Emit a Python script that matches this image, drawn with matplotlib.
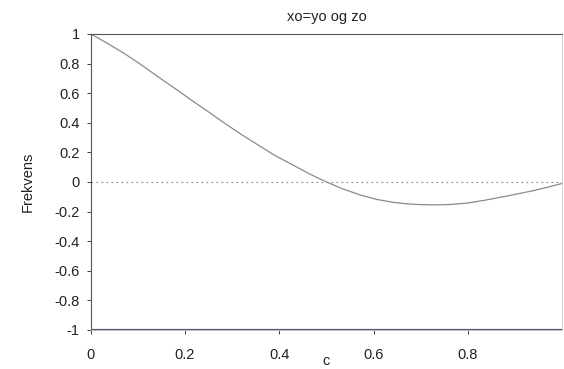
import matplotlib
matplotlib.use("Agg")
import matplotlib.pyplot as plt
import numpy as np

plt.rcParams['font.family'] = ['Liberation Sans', 'DejaVu Sans']

# curve values
c_vals = [0.0, 0.035, 0.071, 0.107, 0.142, 0.178, 0.213, 0.25, 0.284, 0.32, 0.355,
          0.39, 0.43, 0.465, 0.50, 0.535, 0.572, 0.607, 0.643, 0.668, 0.693,
          0.73, 0.765, 0.80, 0.835, 0.87, 0.905, 0.94, 0.97, 1.0]
f_vals = [1.0, 0.937, 0.868, 0.792, 0.712, 0.633, 0.554, 0.473, 0.397, 0.32, 0.25,
          0.18, 0.113, 0.053, 0.0, -0.047, -0.088, -0.118, -0.138, -0.147, -0.152,
          -0.155, -0.152, -0.142, -0.124, -0.103, -0.081, -0.058, -0.035, -0.01]
zero_level = 0.0
bottom_level = -1.0
x_ticks = [0, 0.2, 0.4, 0.6, 0.8]
y_ticks = [1, 0.8, 0.6, 0.4, 0.2, 0, -0.2, -0.4, -0.6, -0.8, -1]

fig = plt.figure(figsize=(5.64, 3.69), dpi=100)
ax = fig.add_axes([0.161, 0.1057, 0.8355, 0.8023])

ax.plot([0, 1], [zero_level, zero_level], color='#888888', lw=0.8, ls=(0, (1.5, 3)))
ax.plot(c_vals, f_vals, color='#8a8a8a', lw=0.9)
xs = np.linspace(0, 1, 160)
ax.plot(xs, np.full_like(xs, bottom_level), color='#5a4c6e', lw=1.6,
        marker='.', ms=2.2, mec='#6a5a80', mfc='#6a5a80')

ax.set_xlim(0, 1)
ax.set_ylim(-1, 1)
ax.set_xticks(x_ticks)
ax.set_xticklabels(['0', '0.2', '0.4', '0.6', '0.8'])
ax.set_yticks(y_ticks)
ax.set_yticklabels(['1', '0.8', '0.6', '0.4', '0.2', '0', '-0.2', '-0.4', '-0.6', '-0.8', '-1'])
ax.tick_params(axis='both', labelsize=10.5, colors='#222222', length=3, width=0.6)
ax.tick_params(axis='x', pad=10)
ax.tick_params(axis='y', pad=5)

for side in ['top', 'left']:
    ax.spines[side].set_color('#555555')
    ax.spines[side].set_linewidth(0.8)
for side in ['right', 'bottom']:
    ax.spines[side].set_color('#cccccc')
    ax.spines[side].set_linewidth(0.6)

ax.set_title('xo=yo og zo', fontsize=10.5, color='#222222', pad=9)
ax.set_ylabel('Frekvens', fontsize=10.5, color='#222222', labelpad=14)
ax.set_xlabel('c', fontsize=10.5, color='#222222')
ax.xaxis.set_label_coords(0.5, -0.082)

fig.savefig('out.png', dpi=100, facecolor='white')
